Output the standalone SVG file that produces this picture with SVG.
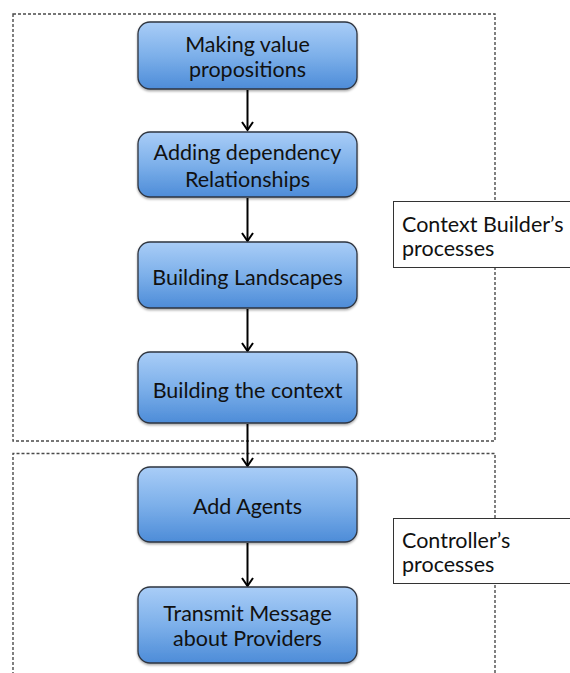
<svg xmlns="http://www.w3.org/2000/svg" width="570" height="673" viewBox="0 0 570 673">
  <defs>
    <linearGradient id="boxFill" x1="0" y1="0" x2="0" y2="1">
      <stop offset="0" stop-color="#a9cdf7"/>
      <stop offset="0.5" stop-color="#7db0ea"/>
      <stop offset="1" stop-color="#4d8cd8"/>
    </linearGradient>
    <marker id="arrow" viewBox="0 0 12 14" refX="10" refY="7" markerWidth="12" markerHeight="14" markerUnits="userSpaceOnUse" orient="auto">
      <path d="M2,1.5 L10,7 L2,12.5" fill="none" stroke="#000" stroke-width="2"/>
    </marker>
    <filter id="shadow" x="-10%" y="-10%" width="120%" height="130%">
      <feDropShadow dx="0" dy="1.5" stdDeviation="1.2" flood-color="#000" flood-opacity="0.35"/>
    </filter>
  </defs>
  <style>
    .container { fill: none; stroke: #4a4a4a; stroke-width: 1.4; stroke-dasharray: 3 2; }
    .step rect { fill: url(#boxFill); stroke: #2f3540; stroke-width: 1.3; filter: url(#shadow); }
    .step text { font-family: Lato, "Open Sans", sans-serif; font-size: 21.5px; fill: #111; text-anchor: middle; }
    .label rect { fill: #fff; stroke: #333; stroke-width: 1; }
    .label text { font-family: Lato, "Open Sans", sans-serif; font-size: 21.5px; fill: #111; }
    .conn line { stroke: #000; stroke-width: 2; marker-end: url(#arrow); }
  </style>

  <rect width="570" height="673" fill="#fff"/>

  <!-- grouping frames -->
  <g id="frames">
    <rect class="container" x="13" y="14" width="482" height="427"/>
    <path class="container" d="M13,680 L13,453.5 L495,453.5 L495,680"/>
  </g>

  <!-- side labels -->
  <g id="label-builder" class="label">
    <rect x="393.5" y="201.5" width="185" height="66"/>
    <text x="402" y="232">Context Builder’s</text>
    <text x="402" y="256">processes</text>
  </g>
  <g id="label-controller" class="label">
    <rect x="393.5" y="518.5" width="185" height="65"/>
    <text x="402" y="548">Controller’s</text>
    <text x="402" y="572">processes</text>
  </g>

  <!-- connectors -->
  <g id="connectors" class="conn">
    <line x1="247.5" y1="90" x2="247.5" y2="130"/>
    <line x1="247.5" y1="198" x2="247.5" y2="241"/>
    <line x1="247.5" y1="309" x2="247.5" y2="351"/>
    <line x1="247.5" y1="424" x2="247.5" y2="466"/>
    <line x1="247.5" y1="543" x2="247.5" y2="586"/>
  </g>

  <!-- process steps -->
  <g id="step-value" class="step">
    <rect x="138" y="22" width="219" height="67" rx="12"/>
    <text x="247.5" y="52">Making value</text>
    <text x="247.5" y="77">propositions</text>
  </g>
  <g id="step-dependency" class="step">
    <rect x="138" y="132" width="219" height="65" rx="12"/>
    <text x="247.5" y="160">Adding dependency</text>
    <text x="247.5" y="187">Relationships</text>
  </g>
  <g id="step-landscapes" class="step">
    <rect x="138" y="242" width="219" height="66" rx="12"/>
    <text x="247.5" y="285">Building Landscapes</text>
  </g>
  <g id="step-context" class="step">
    <rect x="138" y="352" width="219" height="71" rx="12"/>
    <text x="247.5" y="398">Building the context</text>
  </g>
  <g id="step-agents" class="step">
    <rect x="138" y="467" width="219" height="75" rx="12"/>
    <text x="247.5" y="514">Add Agents</text>
  </g>
  <g id="step-transmit" class="step">
    <rect x="138" y="587" width="219" height="76" rx="12"/>
    <text x="247.5" y="621">Transmit Message</text>
    <text x="247.5" y="646">about Providers</text>
  </g>
</svg>
